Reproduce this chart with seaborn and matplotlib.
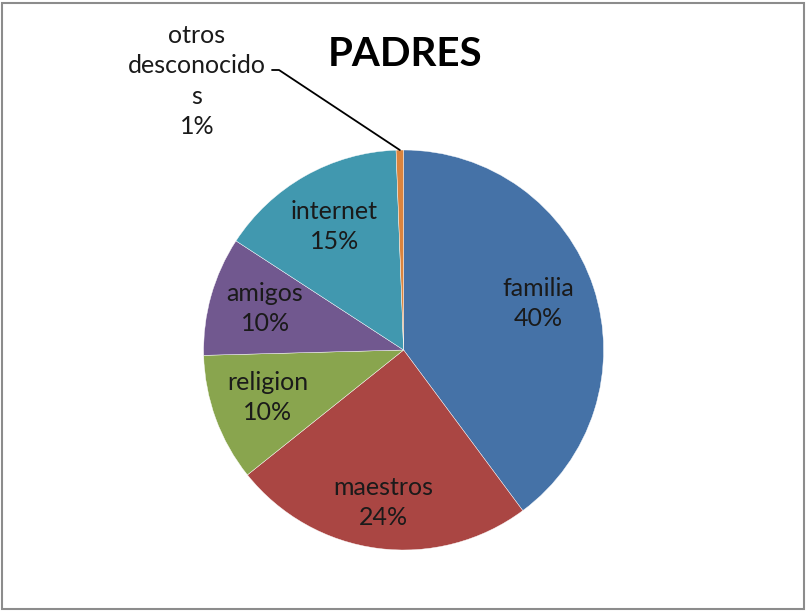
import numpy as np
import seaborn as sns
import matplotlib.pyplot as plt
from matplotlib.patches import Rectangle

categories = ["familia", "maestros", "religion", "amigos", "internet", "otros\ndesconocido\ns"]
values = [39.8, 24.4, 10.3, 9.6, 15.2, 0.6]
colors = ["#4572A7", "#AA4643", "#89A54E", "#71588F", "#4198AF", "#DB843D"]

sns.set_theme(style="white")
plt.rcParams['font.family'] = ['Lato', 'DejaVu Sans']

fig = plt.figure(figsize=(8.06, 6.11), dpi=100)
ax = fig.add_axes([0, 0, 1, 1])

# pie centre / radius in pixels of the reference
cx, cy, r = 403.6, 350, 200
W, H = 806, 611

pal = sns.color_palette(colors)
wedges, _ = ax.pie(values, colors=pal, startangle=90, counterclock=False,
                   radius=1, center=(0, 0),
                   wedgeprops=dict(edgecolor="white", linewidth=0.3))
ax.set_xlim(-cx / r, (W - cx) / r)
ax.set_ylim(-(H - cy) / r, cy / r)
ax.set_aspect("auto")
ax.axis("off")

tot = sum(values)
dist = [0.71, 0.78, 0.725, 0.72, 0.70]
for w, name, v, d in zip(wedges[:-1], categories[:-1], values[:-1], dist):
    ang = np.deg2rad((w.theta1 + w.theta2) / 2)
    ax.text(d * np.cos(ang), d * np.sin(ang) + 0.01, f"{name}\n{round(100 * v / tot)}%",
            ha="center", va="center", fontsize=18, color="#1a1a1a", linespacing=1.38)

# small slice label with leader line
w = wedges[-1]
ang = np.deg2rad((w.theta1 + w.theta2) / 2)
px, py = np.cos(ang), np.sin(ang)
lx, ly = (279 - cx) / r, (cy - 70) / r
ax.plot([px, lx, (272 - cx) / r], [py, ly, ly], color="black", lw=1.3)
ax.text((197 - cx) / r, (cy - 81) / r, f"{categories[-1]}\n{max(1, round(100 * values[-1] / tot))}%",
        ha="center", va="center", fontsize=18, color="#1a1a1a", linespacing=1.4)

fig.text(405 / W, 1 - 55 / H, "PADRES", ha="center", va="center",
         fontsize=29, fontweight="bold", color="black")

fig.patches.append(Rectangle((2 / W, 2 / H), 802 / W, 606 / H, transform=fig.transFigure,
                             fill=False, edgecolor="#8c8c8c", linewidth=1.5))

fig.savefig("out.png", dpi=100, facecolor="white")
